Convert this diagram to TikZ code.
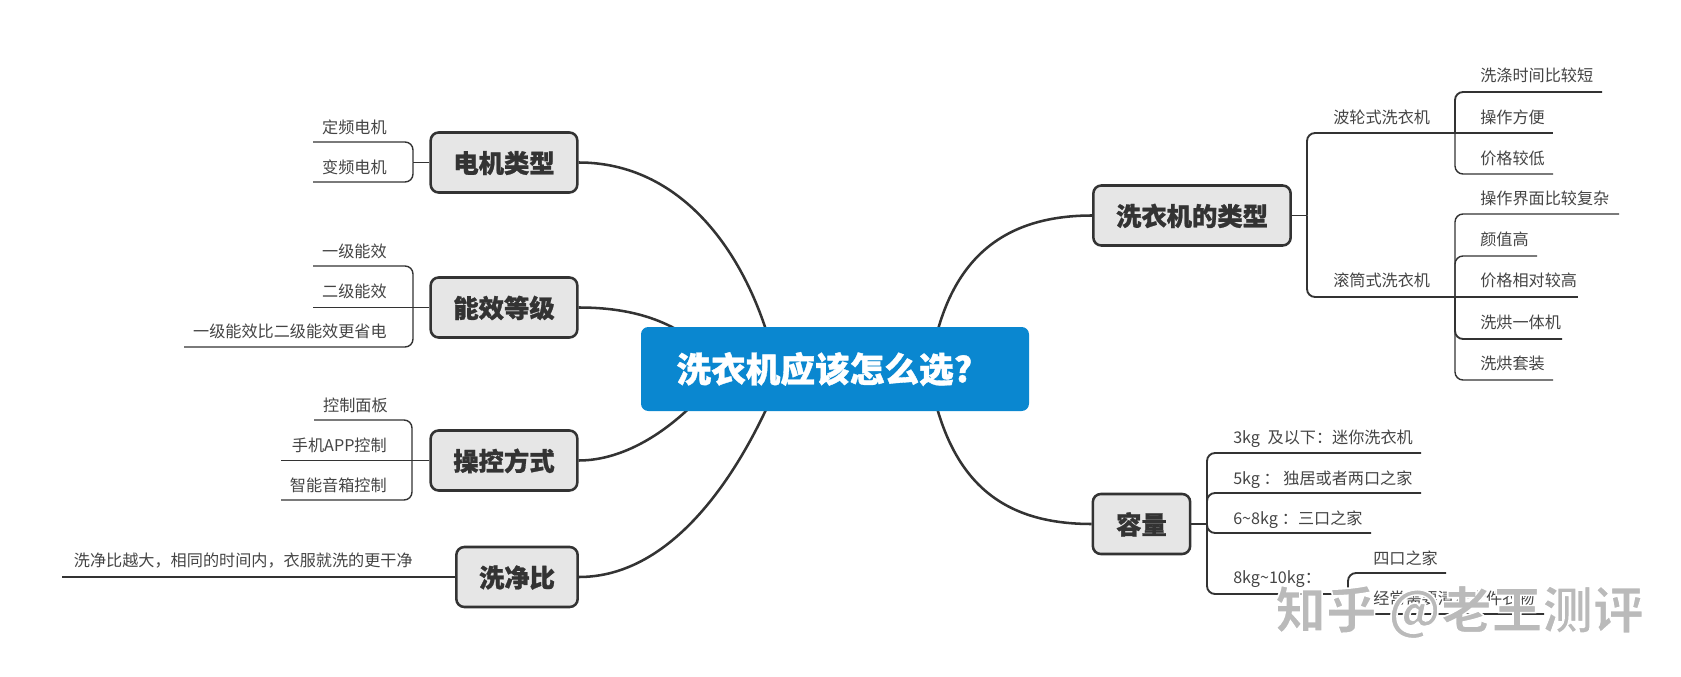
\documentclass[tikz,border=0pt]{standalone}
\usepackage{fontspec}
\setmainfont{Noto Sans CJK SC}[BoldFeatures={FakeBold=1.0}]
\newfontfamily\wmfont{Noto Sans CJK SC}
\usetikzlibrary{backgrounds}
\definecolor{inkc}{HTML}{333333}
\definecolor{leaft}{HTML}{444444}
\definecolor{rootc}{HTML}{0A87D0}
\definecolor{topicf}{HTML}{E6E6E6}
\definecolor{markc}{HTML}{BABABA}
\tikzset{
  rootbox/.style={rectangle,rounded corners=5.5pt,fill=rootc,text=white,font=\fontsize{26}{30}\selectfont\bfseries,minimum width=291pt,minimum height=63pt,inner sep=0pt,text height=22.9pt,text depth=3.1pt},
  topic/.style={rectangle,rounded corners=6pt,draw=inkc,line width=1.9pt,fill=topicf,text=inkc,font=\fontsize{19}{22}\selectfont\bfseries,inner sep=0pt,minimum height=45pt,text height=17pt,text depth=1.75pt},
  leaf/.style={inner sep=0pt,text=leaft,font=\fontsize{12.1}{14}\selectfont,text height=10.56pt,text depth=1.44pt},
  lw/.style={leaf,anchor=west},
  le/.style={leaf,anchor=east},
  main/.style={draw=inkc,line width=1.9pt},
  thin/.style={draw=inkc,line width=1.05pt,rounded corners=6pt},
  thick/.style={draw=inkc,line width=1.4pt,rounded corners=6pt}
}
\begin{document}
\begin{tikzpicture}[x=0.75pt,y=-0.75pt]
\useasboundingbox (0,0) rectangle (1681,677);
% root and topics
\node[rootbox] (root) at (835,369) {洗衣机应该怎么选?\rule{16pt}{0pt}};
\node[topic,minimum width=148pt] (t1) at (1192,215.5) {洗衣机的类型};
\node[topic,minimum width=73pt] (t2) at (1141.5,524) {容量};
\node[topic,minimum width=110pt] (t3) at (504,162.5) {电机类型};
\node[topic,minimum width=110pt] (t4) at (504,307.5) {能效等级};
\node[topic,minimum width=110pt] (t5) at (504,460.5) {操控方式};
\node[topic,minimum width=91pt] (t6) at (517,577) {洗净比};
% curve targets hidden behind the root
\coordinate (r1) at (772,350);
\coordinate (r2) at (715,360);
\coordinate (r3) at (717,378);
\coordinate (r4) at (777,385);
\coordinate (r5) at (933,350);
\coordinate (r6) at (932,388);
\begin{pgfonlayer}{background}
\draw[main] (t3.east) .. controls (680,162.5) and (745,250) .. (r1);
\draw[main] (t4.east) .. controls (635,307.5) and (680,322) .. (r2);
\draw[main] (t5.east) .. controls (625,460.5) and (675,430) .. (r3);
\draw[main] (t6.east) .. controls (670,577) and (737,480) .. (r4);
\draw[main] (t1.west) .. controls (1000,215.5) and (951,262) .. (r5);
\draw[main] (t2.west) .. controls (1000,524) and (952,480) .. (r6);
\end{pgfonlayer}
% washer type branch
\coordinate (j1) at (1307,215.5);
\coordinate (j1a) at (1455,133);
\coordinate (j1b) at (1455,297);
\node[lw] (a) at (1333,117) {波轮式洗衣机};
\node[lw] (b) at (1333,280) {滚筒式洗衣机};
\draw[thick] (t1.east) -- (j1);
\draw[thick] (j1) |- (j1a);
\draw[thick] (j1) |- (j1b);
\node[lw] (a1) at (1480,75) {洗涤时间比较短};
\node[lw] (a2) at (1480,117) {操作方便};
\node[lw] (a3) at (1480,158) {价格较低};
\coordinate (a1e) at (1602,92);
\coordinate (a2e) at (1553,133);
\coordinate (a3e) at (1553,174);
\draw[thick] (j1a) |- (a1e);
\draw[thick] (j1a) -- (a2e);
\draw[thin] (j1a) |- (a3e);
\node[lw] (b1) at (1480,198) {操作界面比较复杂};
\node[lw] (b2) at (1480,239) {颜值高};
\node[lw] (b3) at (1480,280) {价格相对较高};
\node[lw] (b4) at (1480,322) {洗烘一体机};
\node[lw] (b5) at (1480,363) {洗烘套装};
\coordinate (b1e) at (1619,214);
\coordinate (b2e) at (1537,256);
\coordinate (b3e) at (1578,297);
\coordinate (b4e) at (1562,339);
\coordinate (b5e) at (1553,380);
\draw[thin] (j1b) |- (b1e);
\draw[thin] (j1b) |- (b2e);
\draw[thick] (j1b) -- (b3e);
\draw[thick] (j1b) |- (b4e);
\draw[thin] (j1b) |- (b5e);
% capacity branch
\coordinate (j2) at (1207,524);
\draw[thick] (t2.east) -- (j2);
\node[lw] (c1) at (1233,437) {3kg\hspace{3pt} 及以下：迷你洗衣机};
\node[lw] (c2) at (1233,478) {5kg ： 独居或者两口之家};
\node[lw] (c3) at (1233,518) {6\textasciitilde 8kg\hspace{3pt}：三口之家};
\node[lw] (c4) at (1233,577) {8kg\textasciitilde 10kg：};
\coordinate (c1e) at (1421,453);
\coordinate (c2e) at (1421,493);
\coordinate (c3e) at (1371,533);
\coordinate (c4e) at (1348,594);
\draw[thick] (j2) |- (c1e);
\draw[thick] (j2) |- (c2e);
\draw[thick] (j2) |- (c3e);
\draw[thick] (j2) |- (c4e);
\node[lw] (d1) at (1373,558) {四口之家};
\node[lw] (d2) at (1373,598) {经常需要清洗大件衣物};
\coordinate (d1e) at (1446,573);
\coordinate (d2e) at (1544,614);
\draw[thick] (c4e) |- (d1e);
\draw[thick] (c4e) |- (d2e);
% motor branch
\coordinate (j3) at (413,162.5);
\draw[thin] (t3.west) -- (j3);
\node[le] (e1) at (387,127) {定频电机};
\node[le] (e2) at (387,167) {变频电机};
\coordinate (e1e) at (313,142);
\coordinate (e2e) at (313,182);
\draw[thin] (j3) |- (e1e);
\draw[thin] (j3) |- (e2e);
% efficiency branch
\coordinate (j4) at (413,307.5);
\draw[thin] (t4.west) -- (j4);
\node[le] (f1) at (387,251) {一级能效};
\node[le] (f2) at (387,291) {二级能效};
\node[le] (f3) at (387,331) {一级能效比二级能效更省电};
\coordinate (f1e) at (313,266);
\coordinate (f2e) at (313,307.5);
\coordinate (f3e) at (184,347);
\draw[thin] (j4) |- (f1e);
\draw[thin] (j4) -- (f2e);
\draw[thin] (j4) |- (f3e);
% control branch
\coordinate (j5) at (412,460.5);
\draw[thin] (t5.west) -- (j5);
\node[le] (g1) at (388,405) {控制面板};
\node[le] (g2) at (387,445) {手机APP控制};
\node[le] (g3) at (387,485) {智能音箱控制};
\coordinate (g1e) at (314,420);
\coordinate (g2e) at (281,460.5);
\coordinate (g3e) at (281,500);
\draw[thin] (j5) |- (g1e);
\draw[thin] (j5) -- (g2e);
\draw[thin] (j5) |- (g3e);
% wash ratio branch
\node[le] (h1) at (413,560) {洗净比越大，相同的时间内，衣服就洗的更干净};
\coordinate (h1e) at (62,577);
\draw[thick] (t6.west) -- (h1e);
% watermark
\node[anchor=west,inner sep=0pt,text=markc,font=\fontsize{38}{44}\selectfont\wmfont\bfseries] (wm) at (1275,612)
  {\special{pdf:code 2 Tr 1.2 w 1 1 1 RG}知乎 @老王测评\special{pdf:code 0 Tr}};
\end{tikzpicture}
\end{document}
